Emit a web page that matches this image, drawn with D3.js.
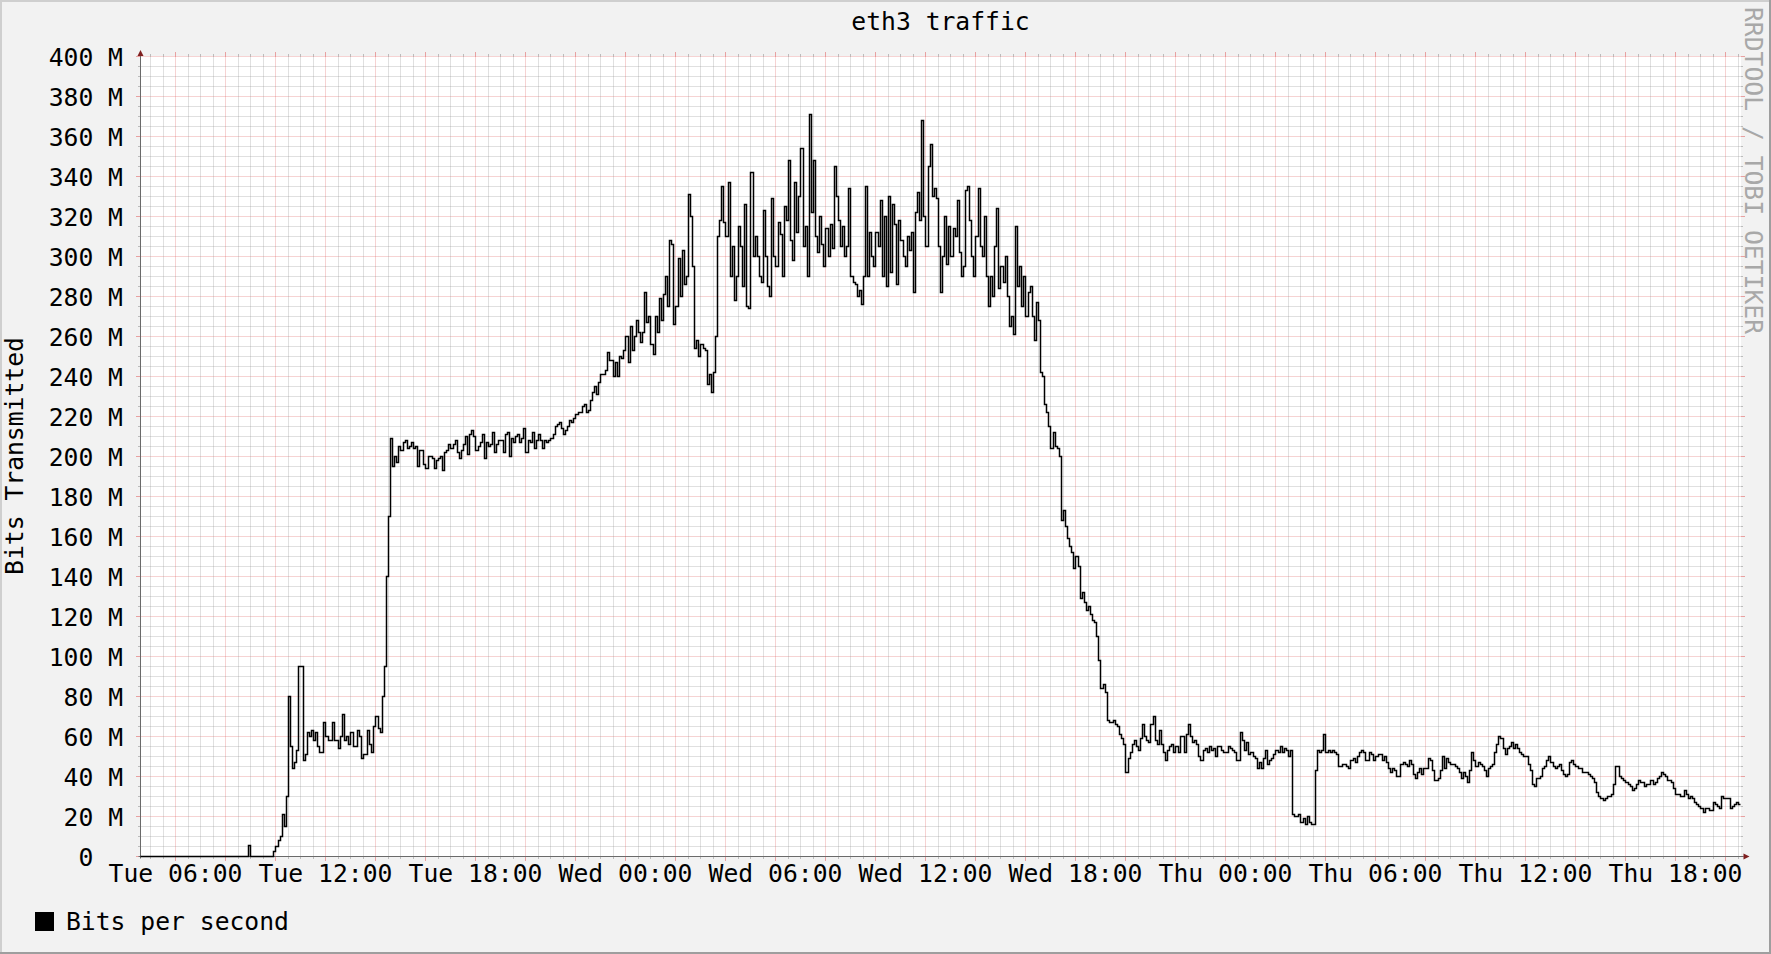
<!DOCTYPE html>
<html><head><meta charset="utf-8">
<script src="https://cdn.jsdelivr.net/npm/d3@7"></script>
<style>
html,body{margin:0;padding:0;background:#f2f2f2;overflow:hidden;}
svg{display:block;}
text{font-family:"DejaVu Sans Mono",monospace;font-size:24.7px;}
</style></head><body>
<svg id="chart" width="1771" height="954"></svg>
<script>
// ---------- data ----------
const chartTitle = "eth3 traffic";
const yAxisTitle = "Bits Transmitted";
const legendLabel = "Bits per second";
const watermarkText = "RRDTOOL / TOBI OETIKER";
const startTime = "2024-01-02T04:36:00Z";   // a Tuesday
const endTime = "2024-01-04T20:36:00Z";     // Thursday
const stepMinutes = 5;
const yTickValues = [0,20,40,60,80,100,120,140,160,180,200,220,240,260,280,300,320,340,360,380,400];
const yTickLabels = ["0","20 M","40 M","60 M","80 M","100 M","120 M","140 M","160 M","180 M","200 M","220 M","240 M","260 M","280 M","300 M","320 M","340 M","360 M","380 M","400 M"];
const xLabelFormat = "%a %H:%M";
// bits per second, in M, one value per 5 minutes
const bitsPerSecondM = [
0,0,0,0,0,0,0,0,0,0,0,0,0,0,0,0,0,0,0,0,
0,0,0,0,0,0,0,0,0,0,0,0,0,0,0,0,0,0,0,0,
0,0,0,0,0,0,0,0,0,0,0,0,5.5,0,0,0,0,0,0,0,
0,0,0,0,2.7,5,8,10,21,15,30,80,55,44,47,53,95,95,48,51,
62,60,63,58,62,55,52,52,67,60,58,58,67,58,58,54,60,71,58,60,
56,62,55,55,63,60,49,51,51,63,56,52,65,70,64,62,80,95,140,170,
209,195,200,197,205,203,207,208,204,205,207,204,205,195,203,203,196,194,200,200,
199,194,198,199,200,193,202,203,206,204,206,208,202,199,203,206,210,201,211,213,
210,203,205,207,211,199,207,205,206,212,202,206,208,208,202,211,212,200,209,207,
210,211,207,209,214,202,208,207,212,204,208,211,208,204,208,207,208,209,211,215,
216,217,214,211,213,215,218,217,219,221,222,222,225,226,222,223,228,232,235,231,
237,241,241,243,252,248,248,240,247,240,250,249,253,260,247,265,253,260,268,262,
257,262,282,267,270,256,251,270,262,279,268,281,290,275,308,306,266,275,299,280,
303,286,290,331,320,295,254,258,250,256,254,253,236,241,232,242,260,310,318,335,
317,310,337,290,305,278,290,315,305,285,326,275,274,342,300,310,300,290,287,323,
300,285,280,329,300,295,317,311,290,325,318,348,308,298,337,312,330,354,305,315,
290,371,322,348,310,302,320,306,295,314,300,316,304,345,330,318,305,315,300,305,
334,290,287,286,280,283,276,290,335,290,312,300,295,312,305,328,290,320,285,330,
292,326,316,286,318,308,300,295,310,303,312,282,322,332,318,368,320,305,345,356,
330,334,329,305,282,300,320,296,315,300,314,310,328,302,290,295,333,335,318,300,
290,310,334,305,300,320,290,275,290,280,305,324,284,295,287,300,280,265,270,261,
315,285,295,275,290,270,282,285,270,258,277,268,242,240,226,222,215,204,212,205,
204,200,168,173,165,159,155,152,144,150,145,129,132,127,123,125,121,118,117,110,
98,84,86,82,68,67,67,68,66,65,61,59,56,42,49,52,56,58,55,53,
59,66,60,58,57,66,70,58,56,63,56,52,48,53,55,56,52,55,52,60,
60,52,61,66,60,57,58,56,50,48,53,54,52,55,53,54,50,55,55,53,
52,52,55,54,53,52,48,48,62,58,53,57,51,52,50,49,44,47,44,49,
53,46,48,49,51,53,52,55,52,54,53,50,53,21,20,20,21,17,19,16,
20,17,16,16,43,53,52,53,61,52,53,52,53,52,51,45,45,46,46,45,
44,48,49,47,50,52,53,52,48,48,52,51,48,50,51,51,48,50,47,44,
42,44,43,40,40,46,47,46,45,48,46,41,39,42,44,41,44,44,49,48,
43,38,38,39,43,50,44,49,47,46,46,45,44,42,39,42,40,37,43,52,
48,45,47,46,45,43,40,44,45,46,52,56,60,59,54,51,54,55,57,54,
56,54,52,51,50,50,46,43,36,35,39,39,40,44,45,48,50,47,45,44,
45,46,43,41,40,41,47,48,46,45,44,44,42,42,42,41,40,39,37,32,
30,29,28,29,30,30,31,36,45,45,40,39,38,37,36,35,33,34,36,38,
37,37,35,36,36,38,36,37,39,40,42,41,40,38,38,37,34,31,31,30,
30,33,31,29,30,29,27,26,25,24,22,24,24,23,23,27,26,25,24,30,
29,29,29,24,25,26,27,26
];

// ---------- colors ----------
const C = {
  back: "#f2f2f2", canvas: "#ffffff", shadeA: "#cfcfcf", shadeB: "#9e9e9e",
  grid: "rgba(143,143,143,0.55)", mgrid: "rgba(222,80,80,0.5)",
  font: "#000000", arrow: "#7f1f1f", axis: "#6a6a6a", line: "#000000",
  water: "#a8a8a8"
};

const svg = d3.select("#chart");
const W = 1771, H = 954;
const X0 = 140.5, X1 = 1740.5, Y0 = 856.5, Y1 = 56.5;
const snap = v => Math.round(v - 0.5) + 0.5;

const t0 = new Date(startTime), t1 = new Date(endTime);
const x = d3.scaleUtc().domain([t0, t1]).range([X0, X1]);
const y = d3.scaleLinear().domain([0, 400]).range([Y0, Y1]);

// background & borders
svg.append("rect").attr("width", W).attr("height", H).attr("fill", C.back);
svg.append("rect").attr("x",0).attr("y",0).attr("width",W).attr("height",2).attr("fill",C.shadeA);
svg.append("rect").attr("x",0).attr("y",0).attr("width",2).attr("height",H).attr("fill",C.shadeA);
svg.append("rect").attr("x",W-2).attr("y",0).attr("width",2).attr("height",H).attr("fill",C.shadeB);
svg.append("rect").attr("x",0).attr("y",H-2).attr("width",W).attr("height",2).attr("fill",C.shadeB);

// canvas
svg.append("rect").attr("x", 140).attr("y", 56).attr("width", 1601).attr("height", 801).attr("fill", C.canvas);

const g = svg.append("g");

// horizontal grid (minor every 5M, major every 20M)
const minorY = d3.range(0, 401, 5).filter(v => v % 20 !== 0);
minorY.forEach(v => {
  const yy = y(v);
  g.append("line").attr("x1", X0).attr("x2", X1).attr("y1", yy).attr("y2", yy)
    .attr("stroke", C.grid).attr("stroke-dasharray", "1,1");
  g.append("line").attr("x1", X0-2.5).attr("x2", X0).attr("y1", yy).attr("y2", yy).attr("stroke", C.grid);
  g.append("line").attr("x1", X1).attr("x2", X1+2.5).attr("y1", yy).attr("y2", yy).attr("stroke", C.grid);
});
yTickValues.forEach(v => {
  const yy = y(v);
  g.append("line").attr("x1", X0).attr("x2", X1).attr("y1", yy).attr("y2", yy)
    .attr("stroke", C.mgrid).attr("stroke-dasharray", "1,1");
  g.append("line").attr("x1", X0-4.5).attr("x2", X0).attr("y1", yy).attr("y2", yy).attr("stroke", C.mgrid);
  g.append("line").attr("x1", X1).attr("x2", X1+4.5).attr("y1", yy).attr("y2", yy).attr("stroke", C.mgrid);
});

// vertical grid (minor every 30 min, major every 2 h)
const minorX = d3.utcMinute.every(30).range(t0, t1).filter(d => !(d.getUTCMinutes() === 0 && d.getUTCHours() % 2 === 0));
minorX.forEach(d => {
  const xx = snap(x(d));
  g.append("line").attr("x1", xx).attr("x2", xx).attr("y1", Y1).attr("y2", Y0)
    .attr("stroke", C.grid).attr("stroke-dasharray", "1,1");
  g.append("line").attr("x1", xx).attr("x2", xx).attr("y1", Y0).attr("y2", Y0+2.5).attr("stroke", C.grid);
  g.append("line").attr("x1", xx).attr("x2", xx).attr("y1", Y1-2.5).attr("y2", Y1).attr("stroke", C.grid);
});
const majorX = d3.utcHour.every(2).range(t0, t1);
majorX.forEach(d => {
  const xx = snap(x(d));
  g.append("line").attr("x1", xx).attr("x2", xx).attr("y1", Y1).attr("y2", Y0)
    .attr("stroke", C.mgrid).attr("stroke-dasharray", "1,1");
  g.append("line").attr("x1", xx).attr("x2", xx).attr("y1", Y0).attr("y2", Y0+4.5).attr("stroke", C.mgrid);
  g.append("line").attr("x1", xx).attr("x2", xx).attr("y1", Y1-4.5).attr("y2", Y1).attr("stroke", C.mgrid);
});

// y labels (rrdtool pads the unit-less "0" with blanks, so it sits two columns left)
const charW = 14.87;
yTickValues.forEach((v, i) => {
  const pad = yTickLabels[i].indexOf(" ") < 0 ? 2 * charW : 0;
  svg.append("text").attr("x", 123 - pad).attr("y", y(v) + 9).attr("text-anchor", "end")
    .attr("fill", C.font).text(yTickLabels[i]);
});

// x labels
const fmt = d3.utcFormat(xLabelFormat);
d3.utcHour.every(6).range(t0, t1).forEach(d => {
  svg.append("text").attr("x", snap(x(d))).attr("y", 882).attr("text-anchor", "middle")
    .attr("fill", C.font).text(fmt(d));
});

// data line (step line, snapped to pixel centres like rrdtool)
const pts = bitsPerSecondM.map((v, i) => [new Date(t0.getTime() + i * stepMinutes * 60000), v]);
pts.push([new Date(t0.getTime() + bitsPerSecondM.length * stepMinutes * 60000), bitsPerSecondM[bitsPerSecondM.length - 1]]);
const line = d3.line().x(d => snap(x(d[0]))).y(d => snap(y(d[1]))).curve(d3.curveStepAfter);

// axes
svg.append("line").attr("x1", X0 - 2).attr("x2", X1 + 3).attr("y1", Y0).attr("y2", Y0).attr("stroke", C.axis);
svg.append("line").attr("x1", X0).attr("x2", X0).attr("y1", Y0 + 2).attr("y2", Y1 - 3).attr("stroke", C.axis);
svg.append("path").attr("d", line(pts)).attr("fill", "none").attr("stroke", C.line)
  .attr("stroke-width", 1.5).attr("stroke-linejoin", "miter");
svg.append("path").attr("d", `M${X0-3},${Y1-0.5} L${X0+3},${Y1-0.5} L${X0},${Y1-6.5} Z`).attr("fill", C.arrow);
svg.append("path").attr("d", `M${X1+3},${Y0-3} L${X1+3},${Y0+3} L${X1+9},${Y0} Z`).attr("fill", C.arrow);

// title
svg.append("text").attr("x", 940.5).attr("y", 29.5).attr("text-anchor", "middle").attr("fill", C.font).text(chartTitle);
// y title
svg.append("text").attr("transform", "translate(23,456) rotate(-90)").attr("text-anchor", "middle").attr("fill", C.font).text(yAxisTitle);
// watermark
svg.append("text").attr("transform", "translate(1745,7) rotate(90)").attr("text-anchor", "start").attr("fill", C.water).text(watermarkText);
// legend
svg.append("rect").attr("x", 35).attr("y", 912).attr("width", 19).attr("height", 19).attr("fill", C.line);
svg.append("text").attr("x", 66).attr("y", 930).attr("fill", C.font).text(legendLabel);
</script>
</body></html>
